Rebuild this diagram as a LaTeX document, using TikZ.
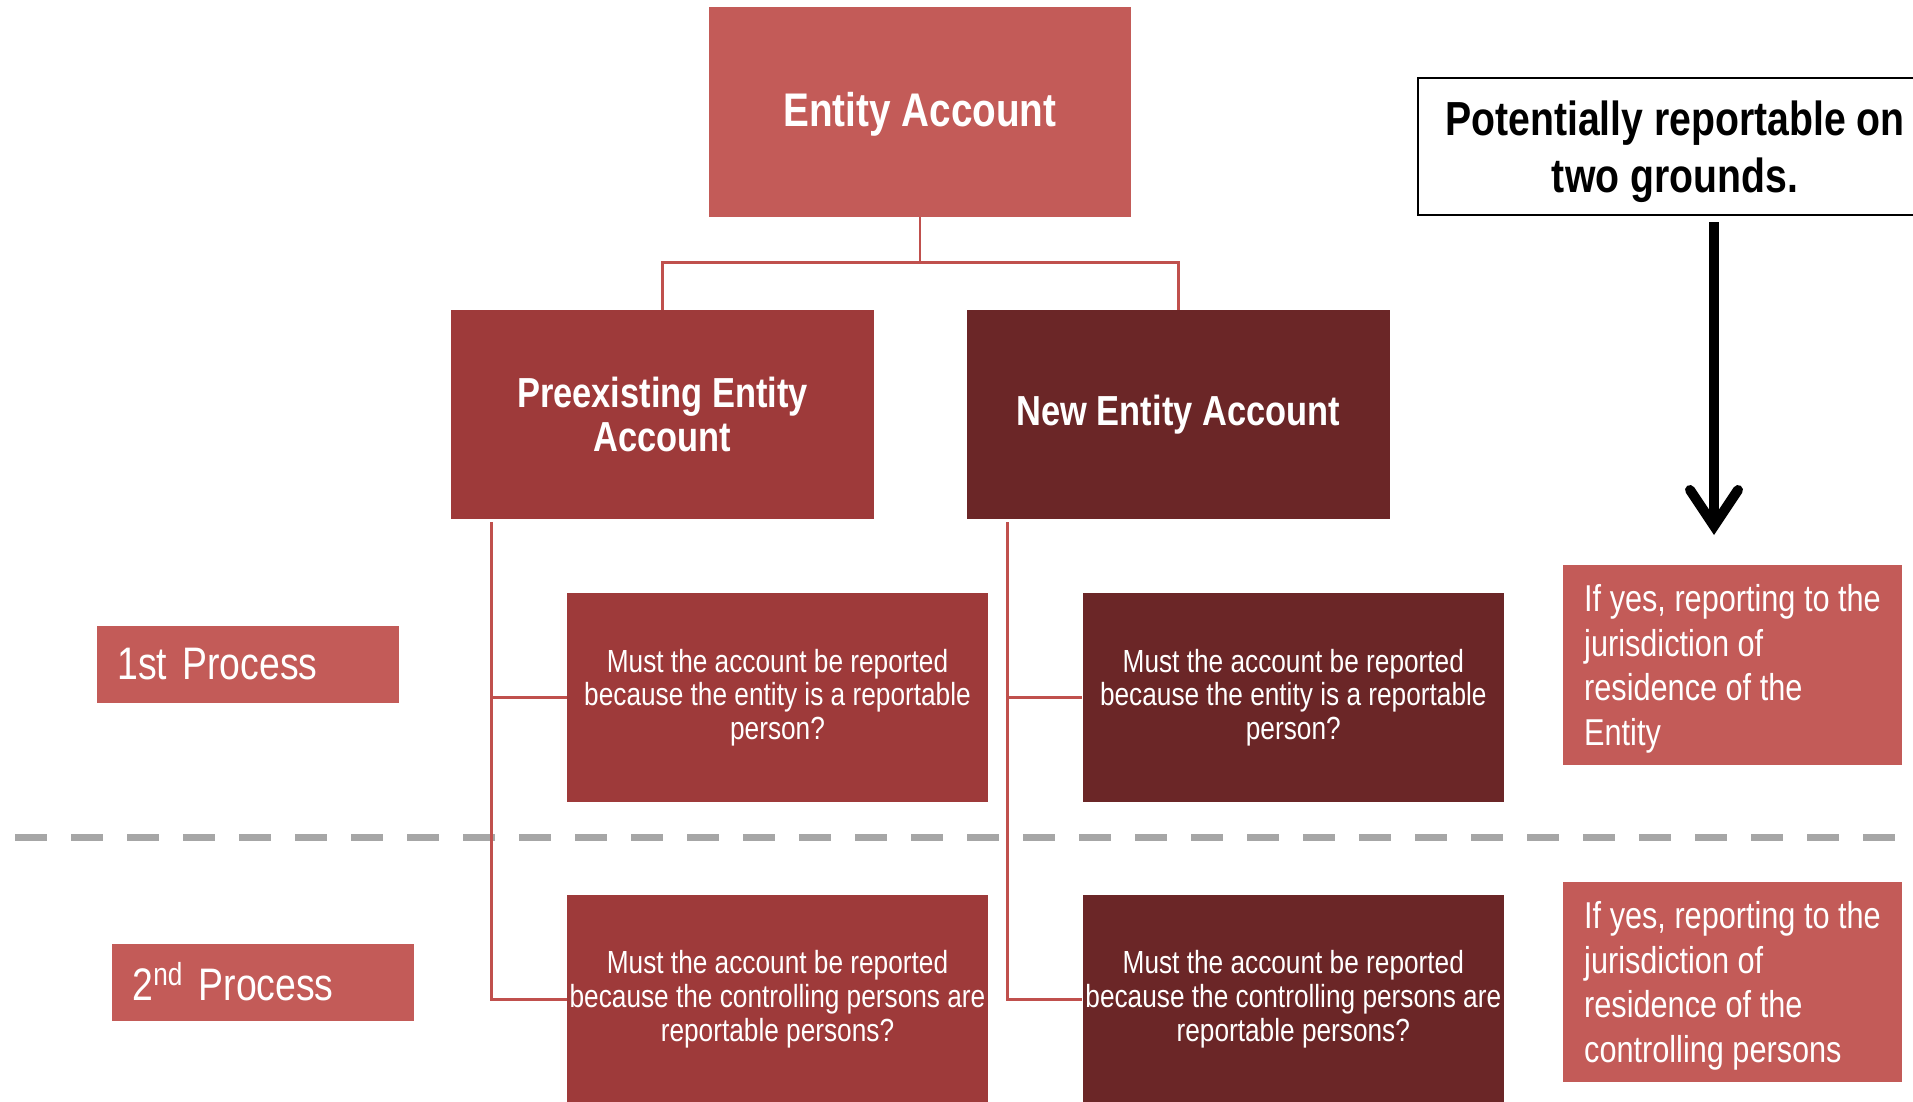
\documentclass[tikz,border=0pt]{standalone}
\usepackage{fontspec}
\setmainfont{Liberation Sans}[FakeStretch=0.82]
\usepackage{tikz}
\usetikzlibrary{
  arrows.meta,
  positioning
}
\definecolor{entred}{HTML}{C35B58}
\definecolor{prered}{HTML}{9E3A3A}
\definecolor{newred}{HTML}{6B2627}
\definecolor{linkred}{HTML}{C0504D}
\definecolor{sepgray}{HTML}{A6A6A6}

\begin{document}
\begin{tikzpicture}[
  x=0.5pt, y=-0.5pt,
  acct/.style={text=white, font=\bfseries\fontsize{21}{22}\selectfont,
               align=center, minimum width=211.5pt, minimum height=104.5pt,
               inner sep=0pt},
  question/.style={text=white, font=\fontsize{16}{16.8}\selectfont,
                   align=center, minimum width=210.5pt, minimum height=104.5pt,
                   inner sep=0pt},
  answer/.style={fill=entred, text=white, font=\fontsize{18.7}{22.4}\selectfont,
                 align=left, minimum width=169.5pt, minimum height=100pt,
                 text depth=0pt},
  procbox/.style={fill=entred, text=white, font=\fontsize{22.8}{26}\selectfont,
                  align=left, text width=130pt, inner xsep=10.5pt,
                  minimum height=38.5pt},
  link/.style={draw=linkred, line width=1.25pt},
]
  \useasboundingbox (0,0) rectangle (1913,1102);

  % Separator between the two processes
  \draw[sepgray, line width=3.5pt, dash pattern=on 16pt off 12pt]
    (15,837) -- (1897,837);

  % Account types
  \node[acct, fill=entred, font=\bfseries\fontsize{23.6}{28}\selectfont,
        minimum width=211pt, minimum height=105pt, text depth=2.5pt] (entity)
    at (920,112) {Entity Account};
  \node[acct, fill=prered] (pre) at (662.5,414.5) {Preexisting Entity\\Account};
  \node[acct, fill=newred, right=46pt of pre] (new) {New Entity Account};

  % Questions
  \node[question, fill=prered] (q1pre) at (777.5,697.5)
    {Must the account be reported\\because the entity is a reportable\\person?};
  \node[question, fill=newred, right=47pt of q1pre] (q1new)
    {Must the account be reported\\because the entity is a reportable\\person?};
  \node[question, fill=prered, below=46pt of q1pre] (q2pre)
    {Must the account be reported\\because the controlling persons are\\reportable persons?};
  \node[question, fill=newred, below=46pt of q1new] (q2new)
    {Must the account be reported\\because the controlling persons are\\reportable persons?};

  % Process labels
  \node[procbox] (proc1) at (247.5,664.5) {1st Process};
  \node[procbox] (proc2) at (262.5,982) {2\textsuperscript{nd} Process};

  % Reporting outcomes
  \node[answer] (ans1) at (1732.5,665)
    {If yes, reporting to the\\jurisdiction of\\residence of the\\Entity};
  \node[answer] (ans2) at (1732.5,982)
    {If yes, reporting to the\\jurisdiction of\\residence of the\\controlling persons};

  \node[draw=black, line width=1pt, font=\bfseries\fontsize{23.9}{28.7}\selectfont,
        align=center, minimum width=257pt, minimum height=68.5pt,
        text depth=0pt] (pot)
    at (1675,146.5) {Potentially reportable on\\two grounds.};
  \coordinate (arrtop) at (1714,222);
  \coordinate (arrtip) at (1714,535);
  \draw[line width=5pt,
        -{Straight Barb[length=18pt, width=24pt, line cap=round]}]
    (arrtop) -- (arrtip);

  % Tree
  \draw[link] (entity.south) -- ++(0,45) -| (pre.north);
  \draw[link] (entity.south) -- ++(0,45) -| (new.north);
  \draw[link] ([xshift=20.5pt, yshift=-1.5pt]pre.south west) |- (q1pre.west);
  \draw[link] ([xshift=20.5pt, yshift=-1.5pt]pre.south west) |- (q2pre.west);
  \draw[link] ([xshift=20.5pt, yshift=-1.5pt]new.south west) |- (q1new.west);
  \draw[link] ([xshift=20.5pt, yshift=-1.5pt]new.south west) |- (q2new.west);

\end{tikzpicture}
\end{document}
